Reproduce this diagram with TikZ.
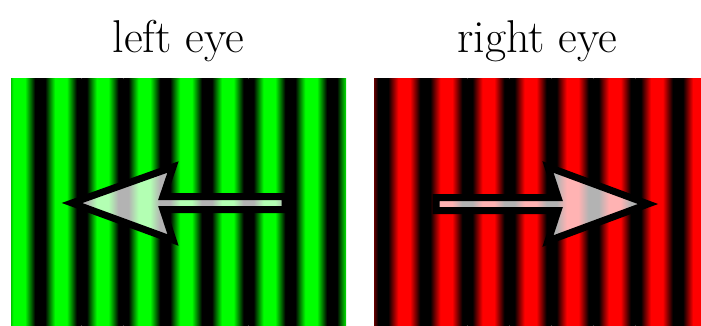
\documentclass[tikz,border=0pt]{standalone}
\usepackage{fontspec}
\usepackage{tikz}
\usetikzlibrary{positioning}
\pgfdeclarehorizontalshading{greenwave}{100bp}{color(0bp)=(black); color(25bp)=(black); color(31bp)=(black);
  color(43bp)=(green); color(57bp)=(green); color(69bp)=(black); color(75bp)=(black); color(100bp)=(black)}
\pgfdeclarehorizontalshading{redwave}{100bp}{color(0bp)=(black); color(25bp)=(black); color(31bp)=(black);
  color(43bp)=(red); color(57bp)=(red); color(69bp)=(black); color(75bp)=(black); color(100bp)=(black)}

\begin{document}
\begin{tikzpicture}[x=1pt, y=-1pt,
      title/.style={font=\fontsize{46}{50}\selectfont, anchor=base, inner sep=0pt},
      motion/.style={draw=black, line width=7pt, fill=white, fill opacity=0.7}]
    \useasboundingbox (0,0) rectangle (701,325);
    % left eye: green grating
    \begin{scope}
      \clip (11,78) rectangle (346,325);
      \foreach \k in {0,...,8}
        \shade[shading=greenwave] ({-1.7+41.7*\k},78) rectangle ++(41.7,247);
    \end{scope}
    % right eye: red grating
    \begin{scope}
      \clip (374,78) rectangle (701,325);
      \foreach \k in {0,...,8}
        \shade[shading=redwave] ({341+42.1*\k},78) rectangle ++(42.1,247);
    \end{scope}
    \node[title] (lefttitle)  at (178.5,52) {left eye};
    \node[title] (righttitle) at (537.5,52) {right eye};
    % motion arrows
    \draw[motion] (72,203) -- (173,167) -- (163,196.5) -- (285,196.5)
      -- (285,209.5) -- (163,209.5) -- (173,240) -- cycle;
    \draw[motion] (436,197.5) -- (558,197.5) -- (548,167) -- (648,204)
      -- (548,241) -- (558,210.5) -- (436,210.5) -- cycle;
  \end{tikzpicture}
\end{document}
